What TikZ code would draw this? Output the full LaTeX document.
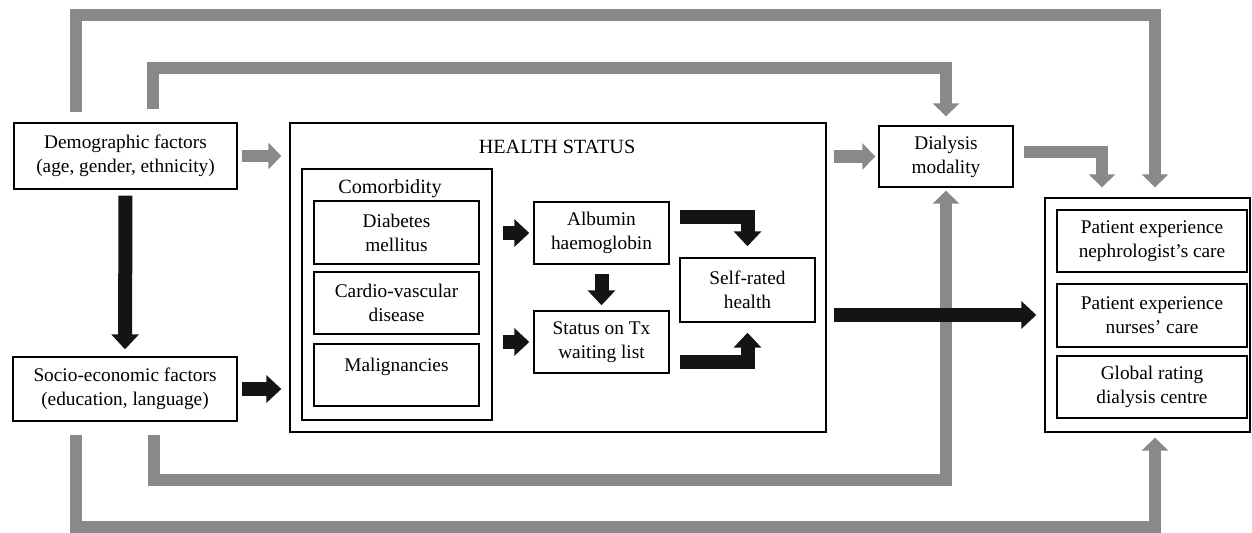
\documentclass[tikz,border=0pt]{standalone}
\usepackage{fontspec}
\setmainfont{Liberation Serif}
\usetikzlibrary{arrows.meta}
\definecolor{arrowgray}{RGB}{137,137,137}
\definecolor{arrowblack}{RGB}{20,20,20}
\tikzset{
	box/.style={draw,line width=0.8pt,align=center,inner sep=0pt,font=\fontsize{11}{13.6}\selectfont},
	boxtitle/.style={inner sep=0pt,font=\fontsize{11.5}{13.6}\selectfont},
	grayarrow/.style={draw=arrowgray,line width=0.25cm,-{Triangle[width=0.52cm,length=0.26cm]}},
	blackarrow/.style={draw=arrowblack,line width=0.28cm,-{Triangle[width=0.54cm,length=0.3cm]}}
}
\begin{document}
\begin{tikzpicture}[x=0.02cm,y=-0.02cm]
	\useasboundingbox (0,0) rectangle (1252,533);
	
	%FACTORS
	\node[box,minimum width=4.46cm,minimum height=1.32cm] (demo) at (125.5,156) {Demographic factors\\(age, gender, ethnicity)};
	\node[box,minimum width=4.48cm,minimum height=1.28cm] (socio) at (125,389) {Socio-economic factors\\(education, language)};
	
	%HEALTH STATUS
	\node[box,minimum width=10.72cm,minimum height=6.18cm] (health) at (558,277.5) {};
	\node[boxtitle] (healthtitle) at (557,147) {HEALTH STATUS};
	\node[box,minimum width=3.8cm,minimum height=5.02cm] (comor) at (397,294.5) {};
	\node[boxtitle] (comortitle) at (390,189) {Comorbidity};
	\node[box,minimum width=3.3cm,minimum height=1.26cm] (diab) at (396.5,232.5) {Diabetes\\mellitus};
	\node[box,minimum width=3.3cm,minimum height=1.24cm] (cardio) at (396.5,303) {Cardio-vascular\\disease};
	\node[box,minimum width=3.3cm,minimum height=1.24cm] (malig) at (396.5,375) {Malignancies\\[-6pt]\strut};
	\node[box,minimum width=2.7cm,minimum height=1.24cm] (albumin) at (601.5,233) {Albumin\\haemoglobin};
	\node[box,minimum width=2.7cm,minimum height=1.24cm] (txlist) at (601.5,342) {Status on Tx\\waiting list};
	\node[box,minimum width=2.7cm,minimum height=1.28cm] (selfrated) at (747.5,290) {Self-rated\\health};
	
	%DIALYSIS AND OUTCOMES
	\node[box,minimum width=2.68cm,minimum height=1.22cm] (dialysis) at (946,156.5) {Dialysis\\modality};
	\node[box,minimum width=4.1cm,minimum height=4.68cm] (outcome) at (1147.5,315) {};
	\node[box,minimum width=3.8cm,minimum height=1.24cm] (nephro) at (1152,241) {Patient experience\\nephrologist's care};
	\node[box,minimum width=3.8cm,minimum height=1.26cm] (nurses) at (1152,315.5) {Patient experience\\nurses' care};
	\node[box,minimum width=3.8cm,minimum height=1.24cm] (globalr) at (1152,387) {Global rating\\dialysis centre};
	
	%LANES
	\coordinate (laneA) at (76,15);
	\coordinate (laneB) at (153,68);
	\coordinate (laneC) at (76,527);
	\coordinate (laneD) at (154,480);
	\coordinate (colE) at (1155,0);
	\coordinate (colF) at (1102,0);
	
	%GREY ARROWS
	\draw[grayarrow,shorten <=0.08cm,shorten >=0.16cm] (demo.east) -- (demo.east -| health.west);
	\draw[grayarrow,shorten <=0.14cm,shorten >=0.06cm] (health.east |- dialysis.west) -- (dialysis.west);
	\draw[grayarrow,shorten <=0.2cm,shorten >=0.2cm] (laneA |- demo.north) -- (laneA) -| (outcome.north -| colE);
	\draw[grayarrow,shorten <=0.26cm,shorten >=0.18cm] (laneB |- demo.north) -- (laneB) -| (dialysis.north);
	\draw[grayarrow,shorten <=0.26cm,shorten >=0.1cm] (laneC |- socio.south) -- (laneC) -| (outcome.south -| colE);
	\draw[grayarrow,shorten <=0.26cm,shorten >=0.06cm] (laneD |- socio.south) -- (laneD) -| (dialysis.south);
	\draw[grayarrow,shorten <=0.2cm,shorten >=0.2cm] ([yshift=0.09cm]dialysis.east) -| (outcome.north -| colF);
	
	%BLACK ARROWS
	\draw[blackarrow,shorten <=0.12cm,shorten >=0.14cm] (demo.south) -- (socio.north);
	\draw[blackarrow,shorten <=0.08cm,shorten >=0.16cm] (socio.east) -- (socio.east -| health.west);
	\draw[blackarrow,shorten <=0.14cm,shorten >=0.16cm] (health.east |- outcome.west) -- (outcome.west);
	\draw[blackarrow,shorten <=0.2cm,shorten >=0.08cm] (comor.east |- albumin.west) -- (albumin.west);
	\draw[blackarrow,shorten <=0.2cm,shorten >=0.08cm] (comor.east |- txlist.west) -- (txlist.west);
	\draw[blackarrow,shorten <=0.18cm,shorten >=0.1cm] (albumin.south) -- (txlist.north);
	\draw[blackarrow,shorten <=0.2cm,shorten >=0.22cm] ([yshift=0.32cm]albumin.east) -| (selfrated.north);
	\draw[blackarrow,shorten <=0.2cm,shorten >=0.2cm] ([yshift=-0.4cm]txlist.east) -| (selfrated.south);
\end{tikzpicture}
\end{document}
